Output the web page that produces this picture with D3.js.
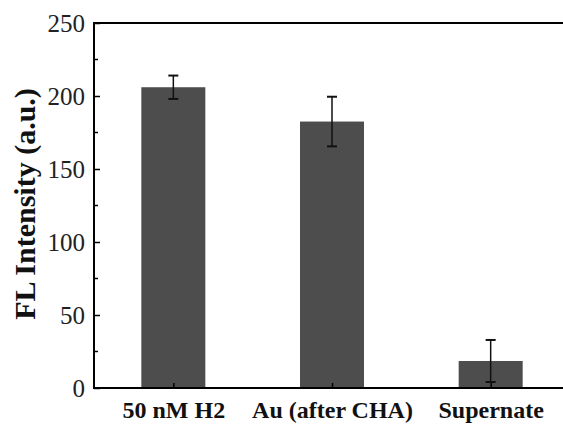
<!DOCTYPE html>
<html>
<head>
<meta charset="utf-8">
<script src="https://cdn.jsdelivr.net/npm/d3@7"></script>
<style>
  body { margin: 0; background: #fff; overflow: hidden; }
  svg { display: block; }
</style>
</head>
<body>
<script>
const categories = ["50 nM H2", "Au (after CHA)", "Supernate"];
const values = [206, 182.5, 18.5];
const errors = [8, 17, 14.4];
const yTicks = [0, 50, 100, 150, 200, 250];
const yMinorTicks = [25, 75, 125, 175, 225];

const w = 563, h = 428;
const plotLeft = 94, plotTop = 23, plotRight = 570, plotBottom = 388;

const svg = d3.select("body").append("svg")
  .attr("width", w)
  .attr("height", h);

const xScale = d3.scaleLinear()
  .domain([0.5, 3.5])
  .range([plotLeft, plotRight]);

const yScale = d3.scaleLinear()
  .domain([0, 250])
  .range([plotBottom, plotTop]);

const barW = 64;

// bars
svg.selectAll("rect.bar")
  .data(values)
  .enter()
  .append("rect")
  .attr("class", "bar")
  .attr("x", (d, i) => xScale(i + 1) - barW / 2)
  .attr("y", d => yScale(d))
  .attr("width", barW)
  .attr("height", d => yScale(0) - yScale(d))
  .attr("fill", "#4d4d4d");

// error bars
const eb = svg.selectAll("g.err")
  .data(values)
  .enter()
  .append("g")
  .attr("class", "err")
  .attr("stroke", "#111")
  .attr("stroke-width", 1.5);

eb.append("line")
  .attr("x1", (d, i) => xScale(i + 1))
  .attr("x2", (d, i) => xScale(i + 1))
  .attr("y1", (d, i) => yScale(d + errors[i]))
  .attr("y2", (d, i) => yScale(d - errors[i]));
eb.append("line")
  .attr("x1", (d, i) => xScale(i + 1) - 5)
  .attr("x2", (d, i) => xScale(i + 1) + 5)
  .attr("y1", (d, i) => yScale(d + errors[i]))
  .attr("y2", (d, i) => yScale(d + errors[i]))
  .attr("stroke-width", 2);
eb.append("line")
  .attr("x1", (d, i) => xScale(i + 1) - 5)
  .attr("x2", (d, i) => xScale(i + 1) + 5)
  .attr("y1", (d, i) => yScale(d - errors[i]))
  .attr("y2", (d, i) => yScale(d - errors[i]))
  .attr("stroke-width", 2);

// y axis (ticks inward)
const yAxis = d3.axisLeft(yScale)
  .tickValues(yTicks)
  .tickSize(-6)
  .tickPadding(9)
  .tickFormat(d3.format("d"));

const gy = svg.append("g")
  .attr("transform", "translate(" + plotLeft + ",0)")
  .call(yAxis);
gy.select(".domain").remove();
gy.selectAll(".tick line").attr("stroke", "#000").attr("stroke-width", 1.5);
gy.selectAll(".tick text")
  .attr("font-family", "'Liberation Serif', 'Times New Roman', serif")
  .attr("font-size", 25)
  .attr("fill", "#222");

svg.append("g")
  .selectAll("line")
  .data(yMinorTicks)
  .enter()
  .append("line")
  .attr("x1", plotLeft)
  .attr("x2", plotLeft + 4)
  .attr("y1", d => yScale(d))
  .attr("y2", d => yScale(d))
  .attr("stroke", "#000")
  .attr("stroke-width", 1.5);

// x axis
const xAxis = d3.axisBottom(xScale)
  .tickValues([1, 2, 3])
  .tickSize(-5)
  .tickPadding(13)
  .tickFormat((d) => categories[d - 1]);

const gx = svg.append("g")
  .attr("transform", "translate(0," + plotBottom + ")")
  .call(xAxis);
gx.select(".domain").remove();
gx.selectAll(".tick line").attr("stroke", "#000").attr("stroke-width", 1.5);
gx.selectAll(".tick text")
  .attr("font-family", "'Liberation Serif', 'Times New Roman', serif")
  .attr("font-weight", "bold")
  .attr("font-size", 24)
  .attr("fill", "#111");

// frame lines
svg.append("line")
  .attr("x1", plotLeft).attr("x2", plotRight)
  .attr("y1", plotTop).attr("y2", plotTop)
  .attr("stroke", "#000").attr("stroke-width", 2);
svg.append("line")
  .attr("x1", plotLeft).attr("x2", plotRight)
  .attr("y1", plotBottom).attr("y2", plotBottom)
  .attr("stroke", "#000").attr("stroke-width", 2);
svg.append("line")
  .attr("x1", plotLeft).attr("x2", plotLeft)
  .attr("y1", plotTop - 1).attr("y2", plotBottom + 1)
  .attr("stroke", "#000").attr("stroke-width", 2);

// y title
svg.append("text")
  .attr("transform", "translate(35,204) rotate(-90)")
  .attr("text-anchor", "middle")
  .attr("font-family", "'Liberation Serif', 'Times New Roman', serif")
  .attr("font-weight", "bold")
  .attr("font-size", 30)
  .attr("fill", "#111")
  .text("FL Intensity (a.u.)");
</script>
</body>
</html>
